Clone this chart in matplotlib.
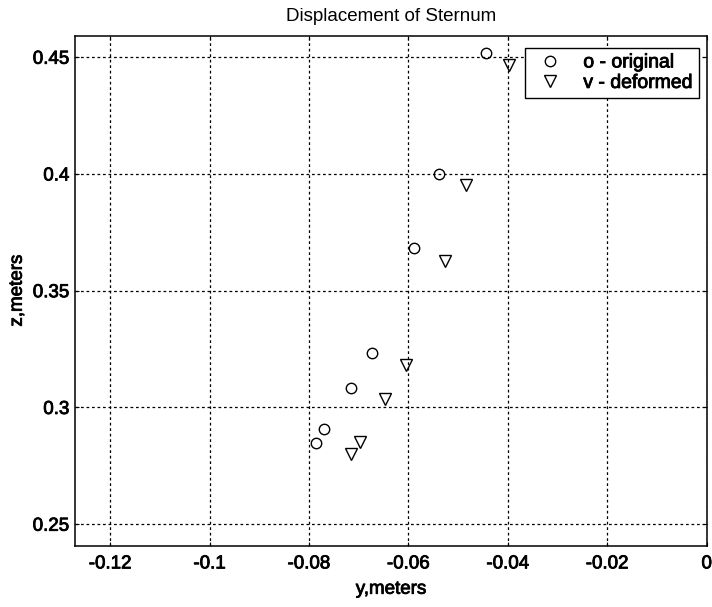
import numpy as np
import matplotlib
matplotlib.use("Agg")
import matplotlib.pyplot as plt
import matplotlib.patheffects as pe

plt.rcParams['font.family'] = ['Liberation Sans', 'DejaVu Sans']

# original sternum points (y, z in meters)
y_orig = [-0.0445, -0.0539, -0.0589, -0.0673, -0.0715, -0.0769, -0.0787]
z_orig = [0.4517, 0.4000, 0.3685, 0.3232, 0.3082, 0.2909, 0.2849]

# deformed sternum points
y_def = [-0.0398, -0.0485, -0.0527, -0.0606, -0.0648, -0.0698, -0.0715]
z_def = [0.4467, 0.3953, 0.3628, 0.3182, 0.3035, 0.2854, 0.2801]

xticks = [-0.12, -0.1, -0.08, -0.06, -0.04, -0.02, 0]
xtick_labels = ['-0.12', '-0.1', '-0.08', '-0.06', '-0.04', '-0.02', '0']
yticks = [0.25, 0.3, 0.35, 0.4, 0.45]
ytick_labels = ['0.25', '0.3', '0.35', '0.4', '0.45']

# scanned text looks a bit heavy
heavy = [pe.withStroke(linewidth=0.6, foreground='black')]

fig = plt.figure(figsize=(7.12, 6.07), dpi=100)
ax = fig.add_axes([0.1053, 0.101, 0.8873, 0.8397])

ax.plot(y_orig, z_orig, 'o', mfc='none', mec='black', ms=7.5, mew=1.0,
        label='o - original')
ax.plot(y_def, z_def, 'v', mfc='none', mec='black', ms=8, mew=1.0,
        label='v - deformed')

ax.set_xlim(-0.1271, 0)
ax.set_ylim(0.2408, 0.4591)
ax.set_xticks(xticks)
ax.set_xticklabels(xtick_labels)
ax.set_yticks(yticks)
ax.set_yticklabels(ytick_labels)
ax.tick_params(direction='in', length=3, labelsize=13.5, colors='black',
               top=True, right=True)
ax.tick_params(axis='x', pad=7)
ax.tick_params(axis='y', pad=4)

ax.grid(True, color='black', linestyle=(0, (2.2, 2.2)), linewidth=0.9)
for s in ax.spines.values():
    s.set_color('black')
    s.set_linewidth(1.1)

ax.set_xlabel('y,meters', fontsize=13.5, labelpad=6)
ax.set_ylabel('z,meters', fontsize=13.5, labelpad=5)
ax.set_title('Displacement of Sternum', fontsize=13.5, pad=11)

leg = ax.legend(loc='upper right', bbox_to_anchor=(0.9878, 0.9765),
                fontsize=14, frameon=True, fancybox=False,
                borderpad=0.3, handletextpad=0.7, labelspacing=0.15,
                borderaxespad=0.0, handlelength=2.0)
leg.get_frame().set_edgecolor('black')
leg.get_frame().set_linewidth(1.0)
leg.get_frame().set_alpha(1)

for t in (ax.get_xticklabels() + ax.get_yticklabels() + leg.get_texts()
          + [ax.xaxis.label, ax.yaxis.label]):
    t.set_path_effects(heavy)

fig.savefig('out.png', dpi=100)
